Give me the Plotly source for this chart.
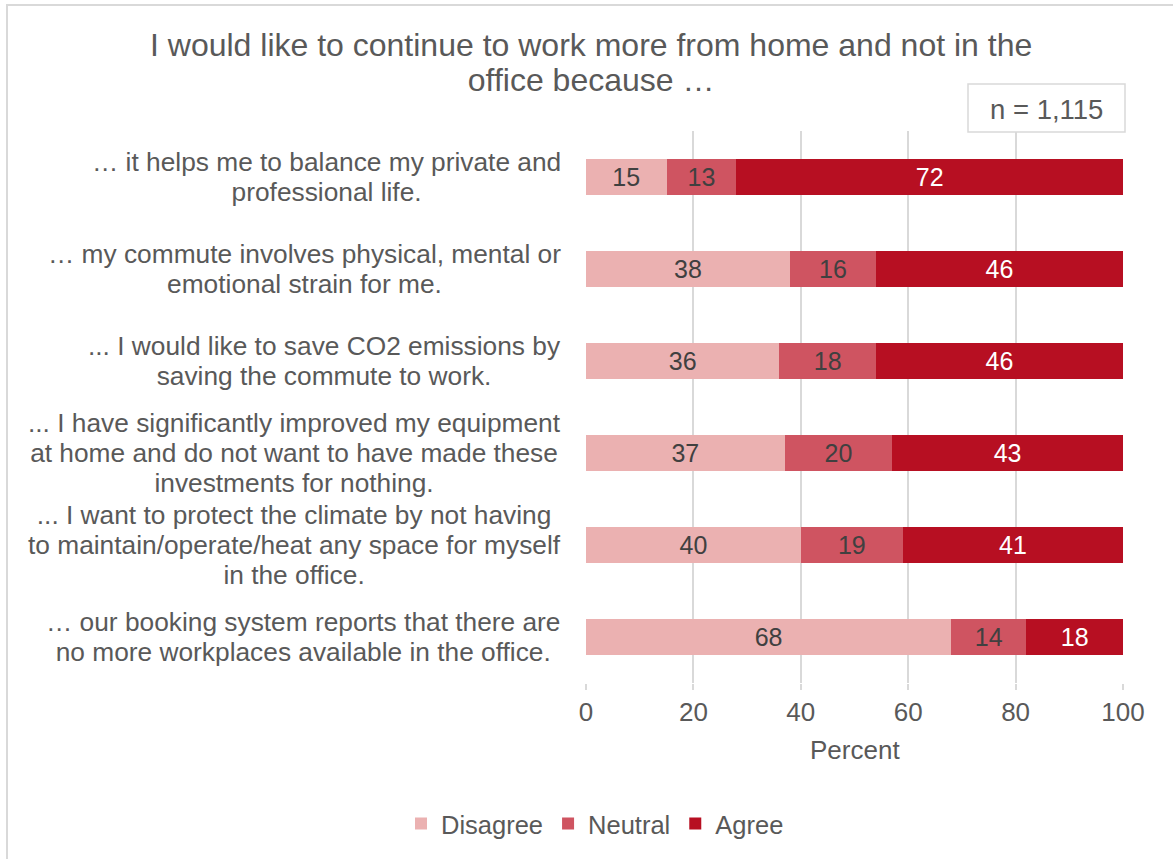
import plotly.graph_objects as go

# Survey statements (top to bottom) and percentage shares per response
statements = [
    "… it helps me to balance my private and<br>professional life.",
    "… my commute involves physical, mental or<br>emotional strain for me.",
    "... I would like to save CO2 emissions by<br>saving the commute to work.",
    "... I have significantly improved my equipment<br>at home and do not want to have made these<br>investments for nothing.",
    "... I want to protect the climate by not having<br>to maintain/operate/heat any space for myself<br>in the office.",
    "… our booking system reports that there are<br>no more workplaces available in the office.",
]
disagree = [15, 38, 36, 37, 40, 68]
neutral = [13, 16, 18, 20, 19, 14]
agree = [72, 46, 46, 43, 41, 18]
x_ticks = [0, 20, 40, 60, 80, 100]

title_text = "I would like to continue to work more from home and not in the<br>office because …"
sample_text = "n = 1,115"

FONT = "Liberation Sans, Arial, sans-serif"
GREY = "#595959"

W, H = 1173, 859
L, R, T, B = 586, 1173 - 1123, 131, 859 - 683
PW, PH = W - L - R, H - T - B


def px_x(p):
    return (p - L) / PW


def px_y(p):
    return (H - B - p) / PH


def sized(text, px):
    """Render each line at `px` while the annotation font sets line spacing."""
    return "<br>".join(
        f'<span style="font-size:{px}px">{line}</span>' for line in text.split("<br>")
    )


cats = list(range(len(statements)))

fig = go.Figure()
series = [
    ("Disagree", disagree, "#EBB1B1", "#404040"),
    ("Neutral", neutral, "#CF5461", "#404040"),
    ("Agree", agree, "#B70F22", "#FFFFFF"),
]
for name, vals, color, tcol in series:
    fig.add_trace(go.Bar(
        name=name, x=vals, y=cats, orientation="h",
        marker=dict(color=color, line=dict(width=0)),
        text=[str(v) for v in vals], textposition="inside",
        insidetextanchor="middle", constraintext="none",
        textfont=dict(family=FONT, size=25, color=tcol),
        width=0.39,
    ))

# Category labels, centred multi-line text right-aligned to the axis
annotations = []
for i, s in enumerate(statements):
    annotations.append(dict(
        x=px_x(563), xref="paper", y=i, yref="y",
        text=sized(s, 26.3), showarrow=False, xanchor="right", yanchor="middle",
        align="center", font=dict(family=FONT, size=23, color=GREY),
    ))

annotations.append(dict(
    x=px_x(1046), xref="paper", y=px_y(109), yref="paper",
    text=sample_text, showarrow=False, xanchor="center", yanchor="middle",
    font=dict(family=FONT, size=27.5, color=GREY),
))
annotations.append(dict(
    x=px_x(591), xref="paper", y=px_y(62), yref="paper",
    text=sized(title_text, 32), showarrow=False, xanchor="center", yanchor="middle",
    align="center", font=dict(family=FONT, size=27, color=GREY),
))
annotations.append(dict(
    x=px_x(855), xref="paper", y=px_y(750), yref="paper",
    text="Percent", showarrow=False, xanchor="center", yanchor="middle",
    font=dict(family=FONT, size=26, color=GREY),
))

shapes = [
    # outer frame
    dict(type="rect", xref="paper", yref="paper",
         x0=px_x(7), x1=px_x(1190), y0=px_y(880), y1=px_y(5),
         line=dict(color="#D9D9D9", width=2), layer="below"),
    # sample size box
    dict(type="rect", xref="paper", yref="paper",
         x0=px_x(968), x1=px_x(1125), y0=px_y(132), y1=px_y(84),
         line=dict(color="#D9D9D9", width=1.5), fillcolor="white"),
]

fig.update_layout(
    width=W, height=H,
    margin=dict(l=L, r=R, t=T, b=B),
    barmode="stack",
    paper_bgcolor="white", plot_bgcolor="white",
    font=dict(family=FONT, color=GREY),
    showlegend=True,
    legend=dict(orientation="h", x=px_x(595), xanchor="center",
                y=px_y(824), yanchor="middle",
                font=dict(family=FONT, size=25.5, color=GREY),
                traceorder="normal", itemwidth=30),
    xaxis=dict(range=[0, 100], tickvals=x_ticks, showgrid=True,
               gridcolor="#D9D9D9", gridwidth=1.5, zeroline=False,
               ticks="outside", ticklen=6, tickcolor="#D9D9D9", tickwidth=1.5,
               showline=False,
               tickfont=dict(family=FONT, size=26, color=GREY)),
    yaxis=dict(range=[len(cats) - 0.5, -0.5], showticklabels=False,
               showgrid=False, zeroline=False, showline=False,
               tickvals=cats),
    annotations=annotations,
    shapes=shapes,
    uniformtext=dict(mode=False),
)

fig.write_html("out.html")
